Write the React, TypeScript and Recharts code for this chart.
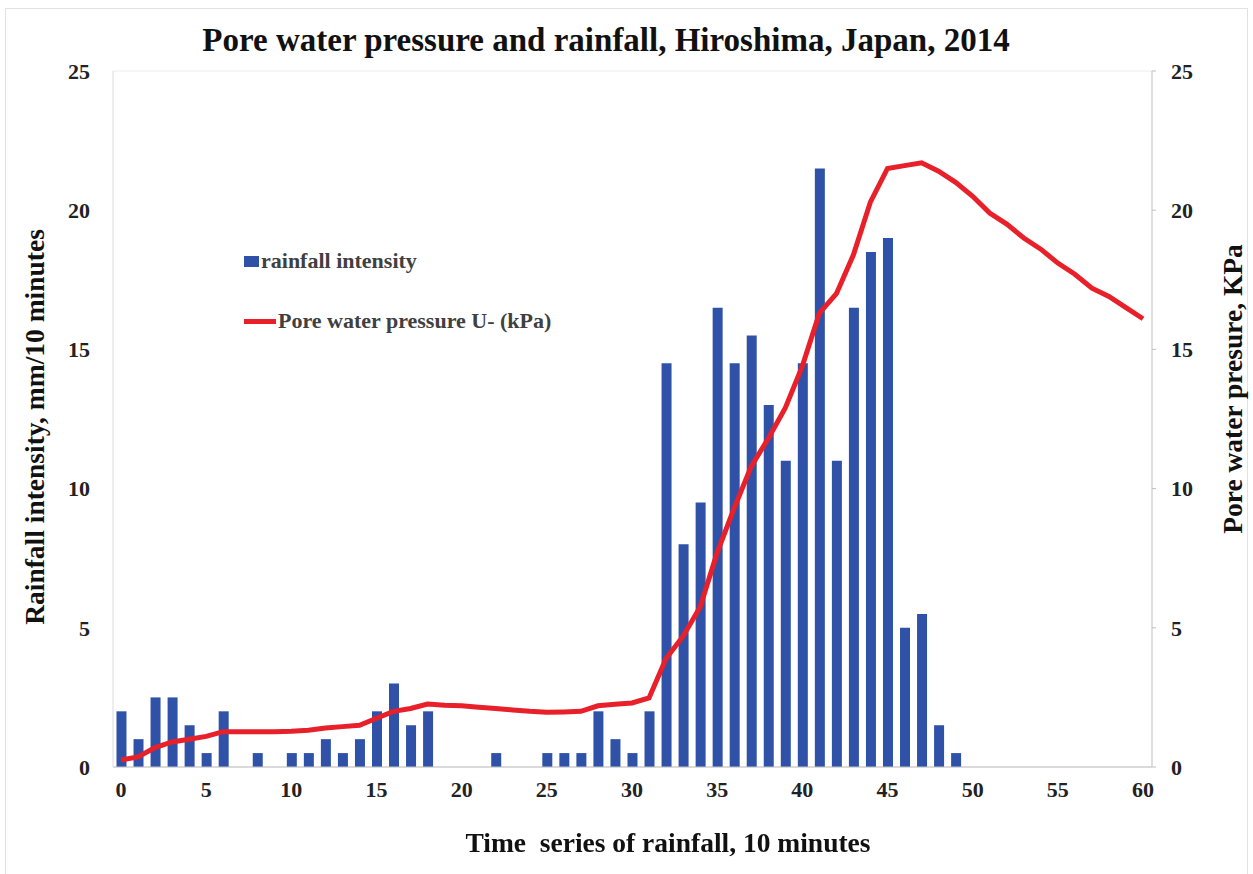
import { ComposedChart, Bar, Line, XAxis, YAxis, CartesianGrid } from "recharts";

const timeSteps = Array.from({ length: 61 }, (_, i) => i);

// rainfall intensity, mm / 10 minutes
const rainfall = [
  2, 1, 2.5, 2.5, 1.5, 0.5, 2, 0, 0.5, 0, 0.5, 0.5, 1, 0.5, 1, 2, 3, 1.5, 2, 0,
  0, 0, 0.5, 0, 0, 0.5, 0.5, 0.5, 2, 1, 0.5, 2, 14.5, 8, 9.5, 16.5, 14.5, 15.5,
  13, 11, 14.5, 21.5, 11, 16.5, 18.5, 19, 5, 5.5, 1.5, 0.5, 0, 0, 0, 0, 0, 0, 0,
  0, 0, 0, 0,
];

// pore water pressure, kPa
const porePressure = [
  0.25, 0.36, 0.7, 0.9, 1.0, 1.1, 1.27, 1.27, 1.27, 1.27, 1.28, 1.32, 1.4, 1.45,
  1.5, 1.75, 2.0, 2.1, 2.26, 2.22, 2.2, 2.15, 2.1, 2.05, 2.0, 1.97, 1.98, 2.0,
  2.2, 2.25, 2.3, 2.48, 3.9, 4.7, 5.75, 7.7, 9.3, 10.8, 11.8, 12.9, 14.4, 16.3,
  17.0, 18.4, 20.3, 21.5, 21.6, 21.7, 21.4, 21.0, 20.5, 19.9, 19.5, 19.0, 18.6,
  18.1, 17.7, 17.2, 16.9, 16.5, 16.1,
];

const xTicks = [0, 5, 10, 15, 20, 25, 30, 35, 40, 45, 50, 55, 60];
const yTicks = [0, 5, 10, 15, 20, 25];

const data = timeSteps.map((t, i) => ({
  t,
  rain: rainfall[i],
  pwp: porePressure[i],
}));

const serif = "'Liberation Serif', 'Times New Roman', serif";
const tickStyle = { fontFamily: serif, fontWeight: 700, fontSize: 22, fill: "#222" };

export default function App() {
  return (
    <div
      style={{
        position: "fixed",
        left: 0,
        top: 0,
        width: 1253,
        height: 874,
        background: "#fff",
        fontFamily: serif,
      }}
    >
      <div
        style={{
          position: "absolute",
          left: 5,
          top: 8,
          right: 5,
          bottom: -2,
          border: "1px solid #e2e2e2",
        }}
      />
      <ComposedChart
        width={1253}
        height={874}
        data={data}
        margin={{ top: 71, right: 41, left: 53, bottom: 67 }}
      >
        <CartesianGrid vertical={false} stroke="#ececec" />
        <XAxis
          dataKey="t"
          type="number"
          domain={[0, 60]}
          ticks={xTicks}
          padding={{ left: 8, right: 9 }}
          height={40}
          stroke="#bfbfbf"
          tickLine={false}
          tickSize={6}
          tickMargin={8}
          tick={tickStyle}
        />
        <YAxis
          yAxisId="left"
          domain={[0, 25]}
          ticks={yTicks}
          width={60}
          stroke="#dcdcdc"
          tickLine={false}
          tickSize={6}
          tickMargin={17}
          tick={tickStyle}
        />
        <YAxis
          yAxisId="right"
          orientation="right"
          domain={[0, 25]}
          ticks={yTicks}
          width={60}
          stroke="#bfbfbf"
          tickSize={4}
          tickMargin={15}
          tick={tickStyle}
        />
        <Bar
          yAxisId="left"
          dataKey="rain"
          fill="#2f52a8"
          barSize={10}
          isAnimationActive={false}
        />
        <Line
          yAxisId="right"
          dataKey="pwp"
          type="linear"
          stroke="#e8202a"
          strokeWidth={5}
          dot={false}
          isAnimationActive={false}
        />
      </ComposedChart>

      <div
        style={{
          position: "absolute",
          left: 0,
          width: 1212,
          top: 22,
          textAlign: "center",
          fontSize: 33,
          fontWeight: 700,
          color: "#111",
        }}
      >
        Pore water pressure and rainfall, Hiroshima, Japan, 2014
      </div>

      <div
        style={{
          position: "absolute",
          left: 35,
          top: 427,
          transform: "translate(-50%, -50%) rotate(-90deg)",
          whiteSpace: "nowrap",
          fontSize: 27.5,
          fontWeight: 700,
          color: "#111",
        }}
      >
        Rainfall intensity, mm/10 minutes
      </div>

      <div
        style={{
          position: "absolute",
          left: 1233,
          top: 389,
          transform: "translate(-50%, -50%) rotate(-90deg)",
          whiteSpace: "nowrap",
          fontSize: 27.5,
          fontWeight: 700,
          color: "#111",
        }}
      >
        Pore water presure, KPa
      </div>

      <div
        style={{
          position: "absolute",
          left: 0,
          width: 1336,
          top: 827,
          textAlign: "center",
          whiteSpace: "pre",
          fontSize: 27.5,
          fontWeight: 700,
          color: "#111",
        }}
      >
        {"Time  series of rainfall, 10 minutes"}
      </div>

      <div
        style={{
          position: "absolute",
          left: 244,
          top: 248,
          display: "flex",
          alignItems: "center",
          fontSize: 22,
          fontWeight: 700,
          color: "#404040",
        }}
      >
        <span
          style={{ display: "inline-block", width: 15, height: 11, background: "#2f52a8", marginRight: 2 }}
        />
        rainfall intensity
      </div>
      <div
        style={{
          position: "absolute",
          left: 244,
          top: 308,
          display: "flex",
          alignItems: "center",
          fontSize: 22,
          fontWeight: 700,
          color: "#404040",
        }}
      >
        <span
          style={{ display: "inline-block", width: 32, height: 5, background: "#e8202a", marginRight: 2 }}
        />
        Pore water pressure U- (kPa)
      </div>
    </div>
  );
}
